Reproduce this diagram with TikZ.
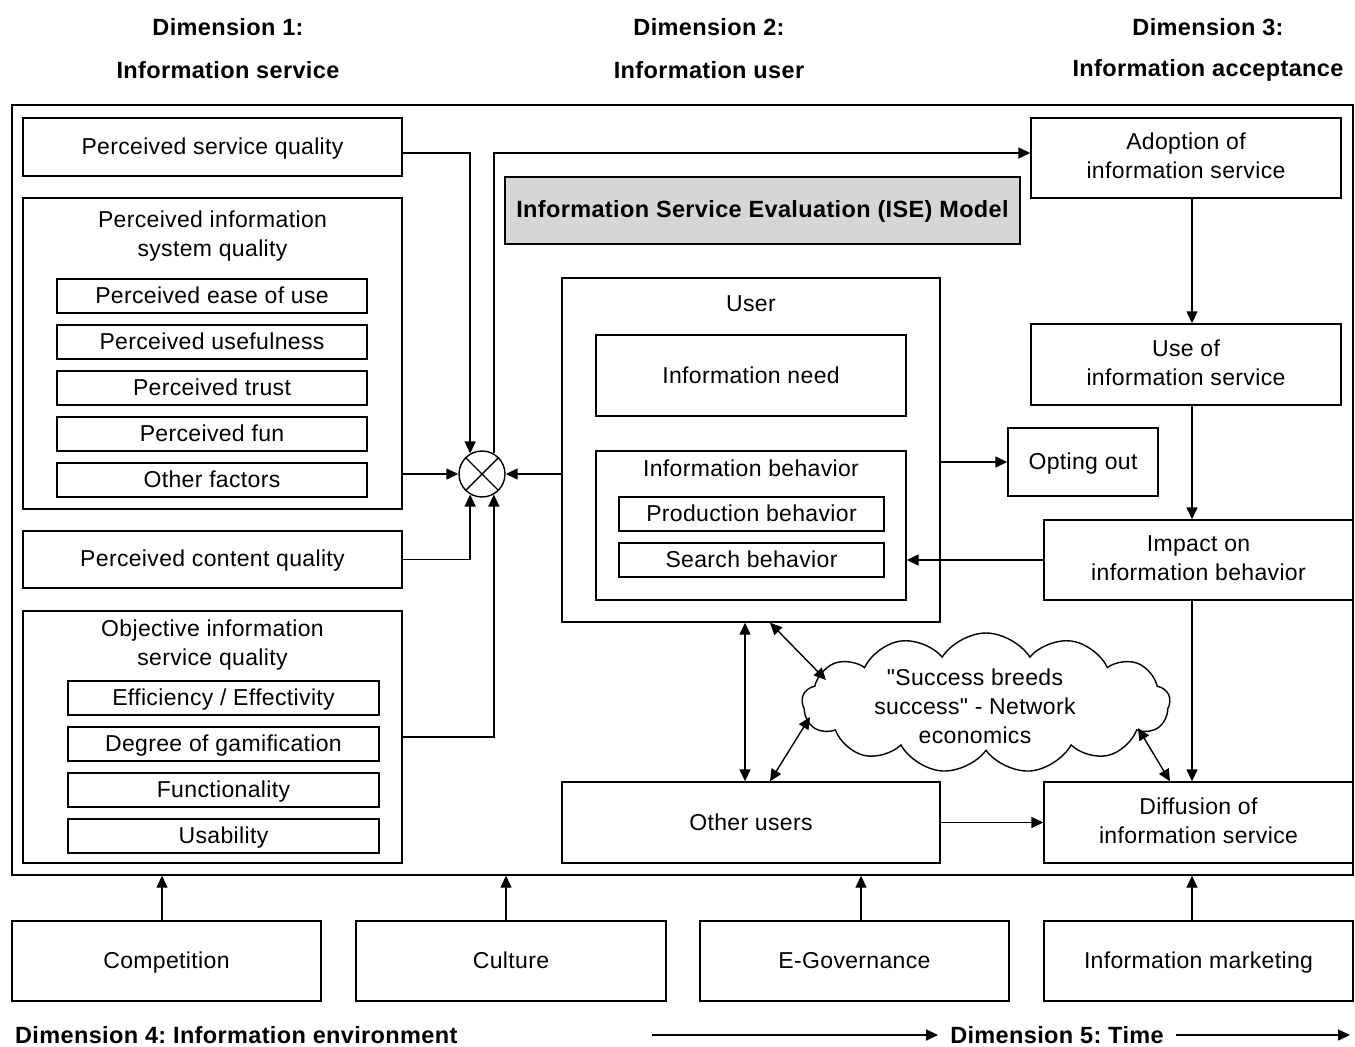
\documentclass[tikz,border=0pt]{standalone}
\usepackage{fontspec}
\setmainfont{Liberation Sans}[LetterSpace=1.5]
\newfontfamily\plainq{Liberation Sans}[LetterSpace=1.5, Ligatures=TeXOff]
\usetikzlibrary{arrows.meta,shapes.symbols,calc}
\frenchspacing
\newcommand\mystrut{\rule[-4pt]{0pt}{23pt}}
\tikzset{
  box/.style={draw, line width=1.4pt, inner sep=0pt, align=center, font=\fontsize{23}{29}\selectfont,
    execute at begin node=\mystrut, execute at end node=\mystrut},
  txt/.style={inner sep=0pt, align=center, font=\fontsize{23}{29}\selectfont},
  ttl/.style={inner sep=0pt, align=center, font=\fontsize{23.5}{29}\selectfont\bfseries},
  conn/.style={line width=1.4pt},
  arr/.style={line width=1.4pt, -{Triangle[length=12pt,width=11pt]}},
  darr/.style={line width=1.4pt, {Triangle[length=12pt,width=11pt]}-{Triangle[length=12pt,width=11pt]}},
}
\begin{document}
\begin{tikzpicture}[x=1pt,y=-1pt]
\useasboundingbox (0,0) rectangle (1355,1047);
% titles
\node[ttl] (d1a) at (228,27) {Dimension 1:};
\node[ttl] (d1b) at (228,70) {Information service};
\node[ttl] (d2a) at (709,27) {Dimension 2:};
\node[ttl] (d2b) at (709,70) {Information user};
\node[ttl] (d3a) at (1208,27) {Dimension 3:};
\node[ttl] (d3b) at (1208,70) {Information acceptance};
% frame
\node[draw, line width=1.4pt, inner sep=0pt, minimum width=1341pt, minimum height=770pt] (frame) at (682.5,490) {};
% dimension 1
\node[box, minimum width=379pt, minimum height=58pt] (psq) at (212.5,147) {Perceived service quality};
\node[draw, line width=1.4pt, inner sep=0pt, minimum width=379pt, minimum height=311pt] (pisq) at (212.5,353.5) {};
\node[txt] (pisqt) at (212.5,236) {Perceived information\\system quality};
\node[box, minimum width=310pt, minimum height=34pt] (peou) at (212,296) {Perceived ease of use};
\node[box, minimum width=310pt, minimum height=34pt] (pu) at (212,342) {Perceived usefulness};
\node[box, minimum width=310pt, minimum height=34pt] (pt) at (212,388) {Perceived trust};
\node[box, minimum width=310pt, minimum height=34pt] (pf) at (212,434) {Perceived fun};
\node[box, minimum width=310pt, minimum height=34pt] (of) at (212,480) {Other factors};
\node[box, minimum width=379pt, minimum height=57pt] (pcq) at (212.5,559.5) {Perceived content quality};
\node[draw, line width=1.4pt, inner sep=0pt, minimum width=379pt, minimum height=252pt] (oisq) at (212.5,737) {};
\node[txt] (oisqt) at (212.5,645) {Objective information\\service quality};
\node[box, minimum width=311pt, minimum height=34pt] (ee) at (223.5,698) {Efficiency / Effectivity};
\node[box, minimum width=311pt, minimum height=34pt] (dg) at (223.5,744) {Degree of gamification};
\node[box, minimum width=311pt, minimum height=34pt] (fu) at (223.5,790) {Functionality};
\node[box, minimum width=311pt, minimum height=34pt] (us) at (223.5,836) {Usability};
% combiner
\node[draw, circle, line width=1.4pt, minimum size=46pt, inner sep=0pt] (circ) at (482,474) {};
\draw[conn] (circ.45) -- (circ.225);
\draw[conn] (circ.135) -- (circ.315);
% ISE
\node[box, fill=black!16, minimum width=515pt, minimum height=67pt, font=\fontsize{23.5}{29}\selectfont\bfseries] (ise) at (762.5,210.5) {Information Service Evaluation (ISE) Model};
% dimension 2
\node[draw, line width=1.4pt, inner sep=0pt, minimum width=378pt, minimum height=344pt] (user) at (751,450) {};
\node[txt] (usert) at (751,304) {User};
\node[box, minimum width=310pt, minimum height=81pt] (need) at (751,375.5) {Information need};
\node[draw, line width=1.4pt, inner sep=0pt, minimum width=310pt, minimum height=149pt] (behav) at (751,525.5) {};
\node[txt] (behavt) at (751,468) {Information behavior};
\node[box, minimum width=265pt, minimum height=34pt] (prod) at (751.5,514) {Production behavior};
\node[box, minimum width=265pt, minimum height=34pt] (search) at (751.5,560) {Search behavior};
\node[box, minimum width=378pt, minimum height=81pt] (others) at (751,822.5) {Other users};
% dimension 3
\node[box, minimum width=310pt, minimum height=80pt] (adopt) at (1186,158) {Adoption of\\information service};
\node[box, minimum width=310pt, minimum height=81pt] (use) at (1186,364.5) {Use of\\information service};
\node[box, minimum width=150pt, minimum height=68pt] (opt) at (1083,462) {Opting out};
\node[box, minimum width=309pt, minimum height=80pt] (impact) at (1198.5,560) {Impact on\\information behavior};
\node[box, minimum width=309pt, minimum height=81pt] (diff) at (1198.5,822.5) {Diffusion of\\information service};
% cloud
\node[cloud, draw, line width=1.4pt, cloud puffs=13, cloud puff arc=115, aspect=2.6, minimum width=368pt, minimum height=140pt, inner sep=0pt] (cloud) at (986,703) {};
\node[txt, font=\fontsize{23}{29}\plainq] (cloudt) at (975,706) {"Success breeds\\success" - Network\\economics};
% environment
\node[box, minimum width=309pt, minimum height=80pt] (comp) at (166.5,961) {Competition};
\node[box, minimum width=310pt, minimum height=80pt] (cult) at (511,961) {Culture};
\node[box, minimum width=309pt, minimum height=80pt] (egov) at (854.5,961) {E-Governance};
\node[box, minimum width=309pt, minimum height=80pt] (mark) at (1198.5,961) {Information marketing};
\node[ttl, anchor=west] (d4) at (15,1035) {Dimension 4: Information environment};
\node[ttl, inner xsep=12pt] (d5) at (1057,1035) {Dimension 5: Time};
% helper coordinates
\coordinate (j1) at (470,153);
\coordinate (colx) at (1192,0);
\coordinate (colu) at (745,0);
\coordinate (cu) at (770,0);
\coordinate (cd) at (1170,0);
\coordinate (b1) at (162,0);
\coordinate (b2) at (506,0);
\coordinate (b3) at (861,0);
\coordinate (b4) at (1192,0);
\coordinate (t0) at (652,1035);
\coordinate (t1) at (1350,1035);
% connectors dimension 1
\draw[arr] (psq.east |- j1) -| (circ.120);
\draw[arr] (pisq.east |- circ.west) -- (circ.west);
\draw[arr] (pcq.east) -| (circ.240);
\draw[arr] (oisq.east) -| (circ.300);
\draw[arr] (user.west |- circ.east) -- (circ.east);
\draw[arr] (circ.60) |- (adopt.west |- j1);
% dimension 3 chain
\draw[arr] (adopt.south -| colx) -- (use.north -| colx);
\draw[arr] (use.south -| colx) -- (impact.north -| colx);
\draw[arr] (impact.south -| colx) -- (diff.north -| colx);
\draw[arr] (user.east |- opt.west) -- (opt.west);
\draw[arr] (impact.west) -- (behav.east |- impact.west);
\draw[arr] (others.east) -- (diff.west |- others.east);
% users and cloud
\draw[darr] (user.south -| colu) -- (others.north -| colu);
\draw[darr] (user.south -| cu) -- ($(cloud.center)+(-160,-23)$);
\draw[darr] (others.north -| cu) -- ($(cloud.center)+(-176,14)$);
\draw[darr] ($(cloud.center)+(152,25)$) -- (diff.north -| cd);
% environment arrows
\draw[arr] (comp.north -| b1) -- (frame.south -| b1);
\draw[arr] (cult.north -| b2) -- (frame.south -| b2);
\draw[arr] (egov.north -| b3) -- (frame.south -| b3);
\draw[arr] (mark.north -| b4) -- (frame.south -| b4);
% time
\draw[arr] (t0) -- (d5.west);
\draw[arr] (d5.east) -- (t1);
\end{tikzpicture}
\end{document}
